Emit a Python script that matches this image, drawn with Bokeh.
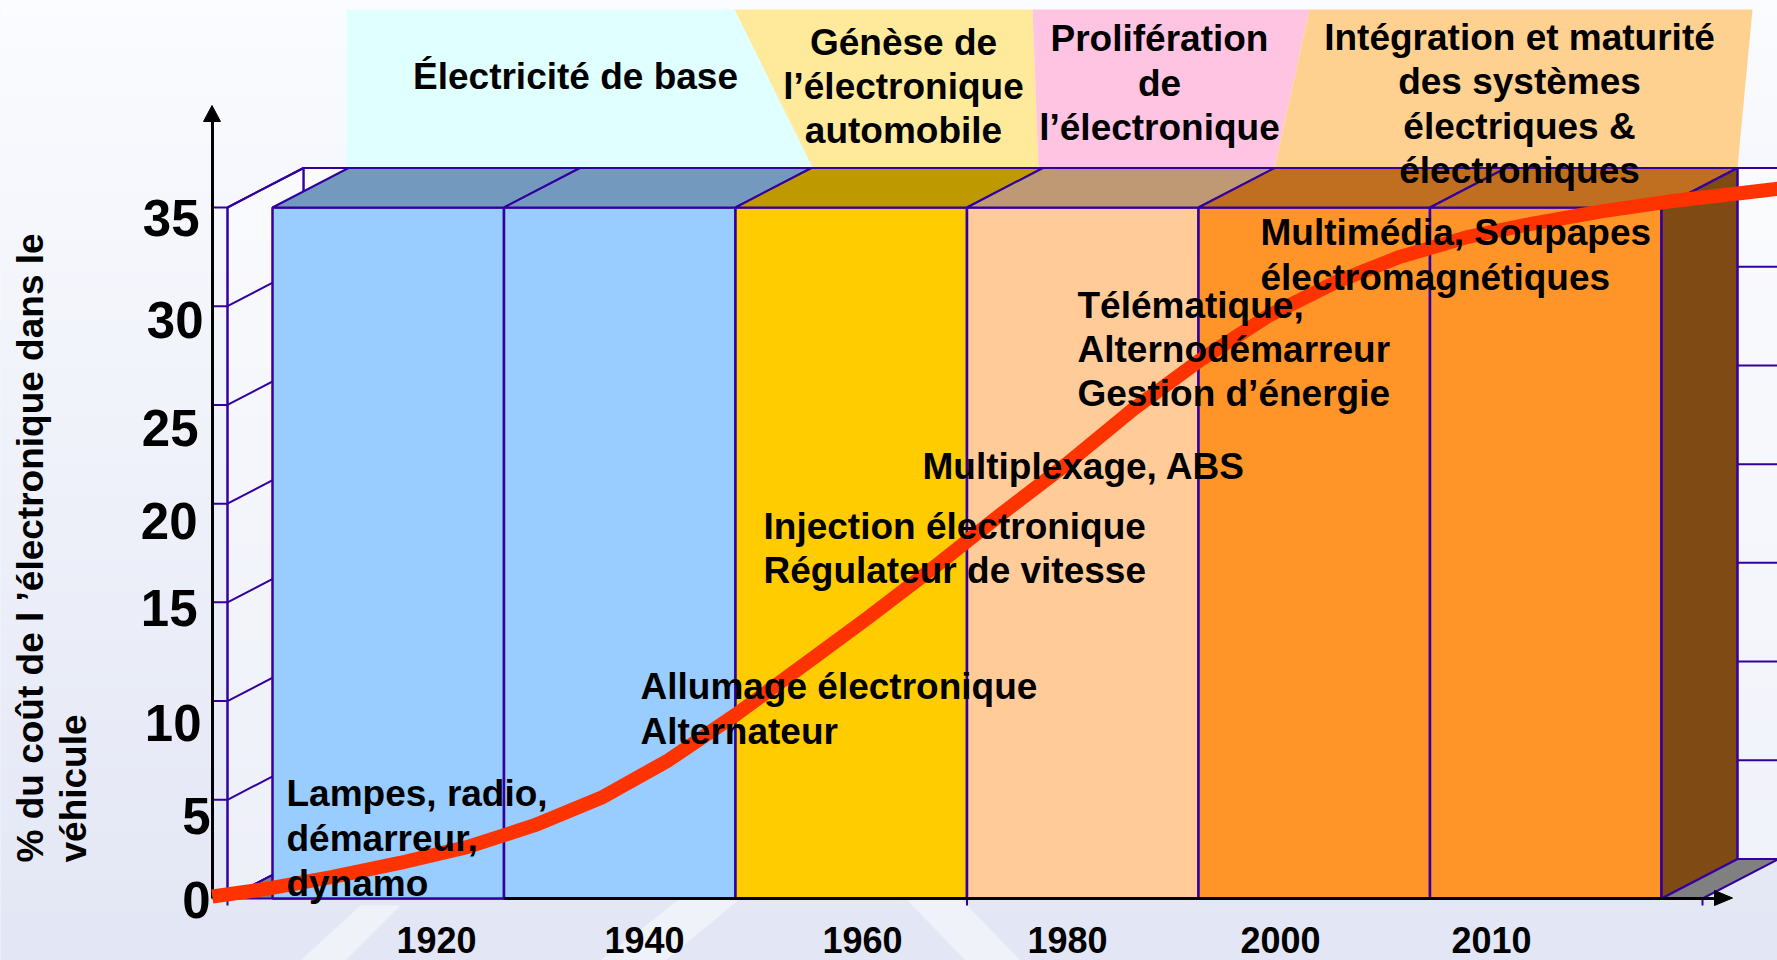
import numpy as np
from bokeh.plotting import figure
from bokeh.models import Range1d
from bokeh.embed import file_html
from bokeh.resources import INLINE
from bokeh.core.properties import value

# ---------------- data ----------------
periods = ["1920", "1940", "1960", "1980", "2000", "2010"]
column_height = [35, 35, 35, 35, 35, 35]          # % (era columns, full height)
y_ticks = [0, 5, 10, 15, 20, 25, 30, 35]
y_tick_labels = ["0", "5", "10", "15", "20", "25", "30", "35"]

# S-curve: position along the time axis (in column widths) / % of vehicle cost
curve_pos = [-0.26, -0.02, 0.26, 0.55, 0.84, 1.13, 1.42, 1.71, 2.00, 2.28, 2.57, 2.86,
             3.14, 3.43, 3.72, 4.01, 4.30, 4.59, 4.87, 5.16, 5.45, 5.74, 6.03, 6.32, 6.54]
curve_pct = [0.1, 0.5, 1.1, 1.8, 2.6, 3.7, 5.1, 7.0, 9.3, 11.7, 14.2, 16.8,
             19.4, 22.0, 24.8, 27.3, 29.5, 31.2, 32.5, 33.5, 34.2, 34.8, 35.3, 35.7, 36.0]

era_titles = [
    ["Électricité de base"],
    ["Génèse de", "l’électronique", "automobile"],
    ["Prolifération", "de", "l’électronique"],
    ["Intégration et maturité", "des systèmes", "électriques &", "électroniques"],
]
milestones = [
    ["Lampes, radio,", "démarreur,", "dynamo"],
    ["Allumage électronique", "Alternateur"],
    ["Injection électronique", "Régulateur de vitesse"],
    ["Multiplexage, ABS"],
    ["Télématique,", "Alternodémarreur", "Gestion d’énergie"],
    ["Multimédia, Soupapes", "électromagnétiques"],
]
axis_title_lines = ["% du coût de l ’électronique dans le", "véhicule"]

# ---------------- styles / layout ----------------
front_colors = ["#99CCFF", "#99CCFF", "#FFCC00", "#FFCC99", "#FF9429", "#FF9429"]
top_colors = ["#7399BF", "#7399BF", "#BF9900", "#BF9973", "#BF6F1F", "#BF6F1F"]
side_color = "#7F4A14"
edge = "#3300A0"
band_colors = ["#E0FFFF", "#FFEA9C", "#FFC4E1", "#FFD190"]
FONT = value("Liberation Sans")

W, H = 1777, 960
M = 0
X0, UX = 272.0, 231.5        # screen px of column 0 left edge, px per column
Y0, PY = 898.0, 19.743       # screen px of 0 %, px per %
DXP, DYP = 76.0, 39.5        # depth offset in px


def ux(X):
    return (X - X0) / UX


def py(Y):
    return (Y0 - Y) / PY


DU, DP = DXP / UX, DYP / PY

p = figure(width=W, height=H, x_range=Range1d(ux(M), ux(M + W)),
           y_range=Range1d(py(M + H), py(M)), output_backend="svg",
           toolbar_location=None, x_axis_type=None, y_axis_type=None,
           min_border=0, outline_line_color=None)
p.grid.visible = False
p.background_fill_color = "#EEF1F9"
p.border_fill_color = "#EEF1F9"

# background vertical gradient
N = 60
ys = np.linspace(M, M + H, N + 1)
c0, c1 = np.array([251, 252, 255]), np.array([227, 231, 245])
cols = []
for i in range(N):
    t = i / (N - 1)
    c = (c0 * (1 - t) + c1 * t).astype(int)
    cols.append("#%02x%02x%02x" % tuple(c))
p.quad(left=ux(M), right=ux(M + W), top=[py(v) for v in ys[:-1]],
       bottom=[py(v) for v in ys[1:]], fill_color=cols, line_color=cols, line_width=1)

# faint watermark strokes
wm = [[(600, 960), (680, 898), (740, 898), (665, 960)],
      [(905, 898), (960, 898), (1020, 960), (965, 960)],
      [(300, 960), (360, 905), (400, 905), (345, 960)]]
p.patches([[ux(a) for a, b in s] for s in wm], [[py(b) for a, b in s] for s in wm],
          fill_color="white", fill_alpha=0.45, line_color=None)

# era header bands
bands = [[(346, 9), (734, 9), (812, 167), (346, 167)],
         [(734, 9), (1032, 9), (1038, 167), (812, 167)],
         [(1032, 9), (1309, 9), (1274, 167), (1038, 167)],
         [(1309, 9), (1752, 9), (1737, 167), (1274, 167)]]
p.patches([[ux(a) for a, b in s] for s in bands], [[py(b) for a, b in s] for s in bands],
          fill_color=band_colors, line_color=None)

# geometry of the 3D box
n = len(periods)
u_left, u_right = ux(227), ux(1702)
top = max(column_height)

# back wall
p.patch([u_left + DU, u_right + DU, u_right + DU, u_left + DU],
        [DP, DP, top + DP, top + DP], fill_color="white", fill_alpha=0.45,
        line_color=edge, line_width=2)
p.segment(x0=[u_left + DU] * len(y_ticks), x1=[u_right + DU] * len(y_ticks),
          y0=[v + DP for v in y_ticks], y1=[v + DP for v in y_ticks],
          line_color=edge, line_width=2)
# left wall
p.patch([u_left, u_left + DU, u_left + DU, u_left], [0, DP, top + DP, top],
        fill_color="white", fill_alpha=0.35, line_color=edge, line_width=2)
p.segment(x0=[u_left] * len(y_ticks), x1=[u_left + DU] * len(y_ticks),
          y0=y_ticks, y1=[v + DP for v in y_ticks], line_color=edge, line_width=2)
p.segment(x0=[ux(212)] * len(y_ticks), x1=[u_left] * len(y_ticks),
          y0=y_ticks, y1=y_ticks, line_color=edge, line_width=2)
p.segment(x0=[u_left], x1=[u_left], y0=[py(905)], y1=[top], line_color=edge, line_width=2)
# floor
p.patch([u_left, u_right, u_right + DU, u_left + DU], [0, 0, DP, DP],
        fill_color="#808080", line_color=edge, line_width=2)
p.segment(x0=[u_right, 3.0], x1=[u_right, 3.0], y0=[py(905)] * 2, y1=[0, 0],
          line_color=edge, line_width=2)

# columns
lefts = list(range(n))
rights = [i + 1 for i in range(n)]
p.quad(left=lefts, right=rights, bottom=[0] * n, top=column_height,
       fill_color=front_colors, line_color=edge, line_width=2.5)
p.patches([[l, r, r + DU, l + DU] for l, r in zip(lefts, rights)],
          [[h, h, h + DP, h + DP] for h in column_height],
          fill_color=top_colors, line_color=edge, line_width=2)
r = rights[-1]
p.patch([r, r + DU, r + DU, r], [0, DP, column_height[-1] + DP, column_height[-1]],
        fill_color=side_color, line_color=edge, line_width=2.5)

# axes (black lines with arrows)
p.segment(x0=[ux(212)], x1=[ux(212)], y0=[0], y1=[py(120)], line_color="black", line_width=3)
p.patch([ux(203), ux(220), ux(211.5)], [py(121), py(121), py(105)], fill_color="black",
        line_color="black")
p.segment(x0=[1.0], x1=[ux(1716)], y0=[0], y1=[0], line_color="black", line_width=3)
p.patch([ux(1714), ux(1714), ux(1732)], [py(890), py(905), py(897.5)], fill_color="black",
        line_color="black")

# S-curve
p.line(curve_pos, curve_pct, line_width=14, line_color="#FF3300", line_join="round")

# y tick labels (hand-placed nudges in px)
yt_right = [210, 210, 201, 197, 197, 198, 203, 199]
yt_dy = [1, 16, 22, 6, 17, 23, 14, 11]
p.text(x=[ux(xr) for xr in yt_right], y=[v - d / PY for v, d in zip(y_ticks, yt_dy)],
       text=y_tick_labels, text_font=FONT, text_font_style="bold", text_font_size="51px",
       text_align="right", text_baseline="middle", text_color="black")

# x labels
xl_center = [436, 644, 862, 1067, 1280, 1491]
p.text(x=[ux(c) for c in xl_center], y=[py(939)] * n, text=periods, text_font=FONT,
       text_font_style="bold", text_font_size="36px", text_align="center",
       text_baseline="middle", text_color="black")


def block(lines, x, y, spacing, align):
    xs, ys_, ts = [], [], []
    for i, t in enumerate(lines):
        xs.append(ux(x))
        ys_.append(py(y + i * spacing))
        ts.append(t)
    p.text(x=xs, y=ys_, text=ts, text_font=FONT, text_font_style="bold",
           text_font_size="37px", text_align=align, text_baseline="middle",
           text_color="black")


# milestone annotations
ms_anchor = [(286, 793, 45), (640, 686, 45), (763, 526, 44), (922, 466, 44),
             (1077, 305, 44), (1260, 232, 45)]
for lines, (ax, ay, sp) in zip(milestones, ms_anchor):
    block(lines, ax, ay, sp, "left")

# era titles
era_anchor = [(575, 76, 44), (903, 42, 44), (1159, 38, 44.5), (1519, 37, 44.3)]
for lines, (ax, ay, sp) in zip(era_titles, era_anchor):
    block(lines, ax, ay, sp, "center")

# axis title (rotated)
p.text(x=[ux(30), ux(73)], y=[py(862)] * 2, text=axis_title_lines, angle=np.pi / 2,
       text_font=FONT, text_font_style="bold", text_font_size="37px",
       text_align="left", text_baseline="alphabetic", text_color="black")

open("out.html", "w").write(file_html(p, INLINE))
